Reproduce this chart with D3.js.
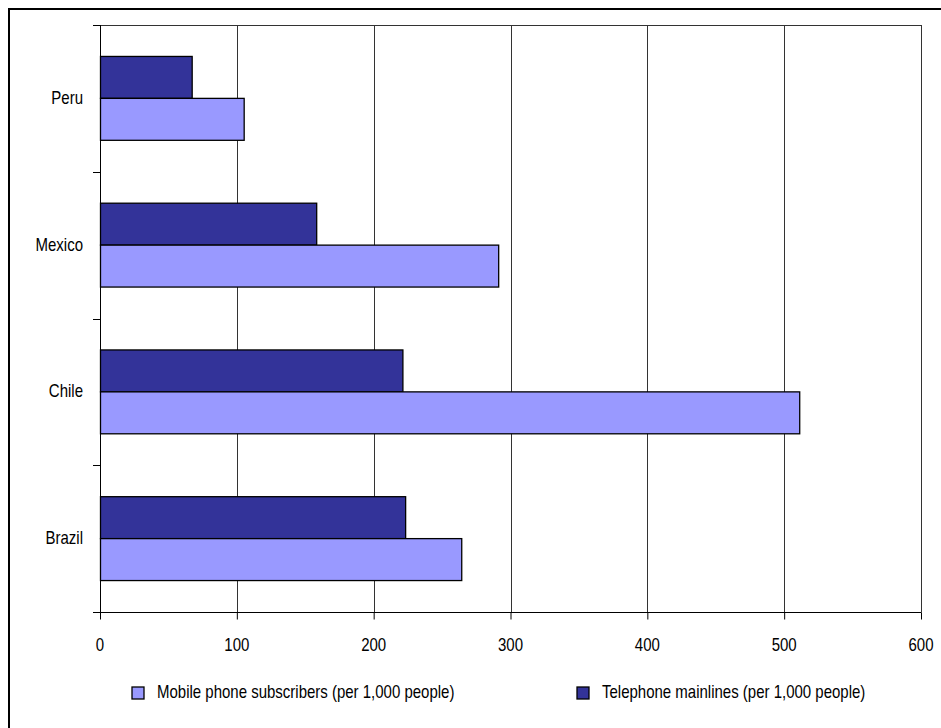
<!DOCTYPE html>
<html>
<head>
<meta charset="utf-8">
<script src="https://cdn.jsdelivr.net/npm/d3@7"></script>
<style>
  html, body { margin: 0; padding: 0; background: #fff; }
  svg { display: block; }
  text { font-family: "Liberation Sans", Arial, sans-serif; fill: #000; font-size: 15px; }
</style>
</head>
<body>
<svg id="chart" width="941" height="728"></svg>
<script>
// Countries, top to bottom
const countries = ["Peru", "Mexico", "Chile", "Brazil"];
// Telephone mainlines (per 1,000 people)
const mainlines = [67, 158, 221, 223];
// Mobile phone subscribers (per 1,000 people)
const mobile = [105, 291, 511, 264];
const xTicks = [0, 100, 200, 300, 400, 500, 600];

const seriesNames = ["Telephone mainlines (per 1,000 people)", "Mobile phone subscribers (per 1,000 people)"];
const seriesKeys = ["mainlines", "mobile"];
const colors = { mainlines: "#333399", mobile: "#9999FF" };

const rows = countries.map((c, i) => ({ country: c, mainlines: mainlines[i], mobile: mobile[i] }));

const svg = d3.select("#chart");
const plot = { left: 100, right: 921, top: 25, bottom: 612 };
const stretch = 1.22; // tall, narrow lettering

// Places a label at (px, py) with its vertical centre on py
function label(sel, px, py, anchor, txt) {
  return sel.append("text")
    .attr("transform", `translate(${px},${py}) scale(1,${stretch})`)
    .attr("dy", "0.35em")
    .attr("text-anchor", anchor)
    .text(txt);
}

// Chart frame
svg.append("rect")
  .attr("x", 9).attr("y", 9).attr("width", 950).attr("height", 740)
  .attr("fill", "none").attr("stroke", "#000").attr("stroke-width", 2);

const x = d3.scaleLinear().domain([0, 600]).range([plot.left, plot.right]);
const gap = 1.5 / 3.5;
const y = d3.scaleBand().domain(countries).range([plot.top, plot.bottom])
  .paddingInner(gap).paddingOuter(gap / 2);
const ySub = d3.scaleBand().domain(seriesKeys).range([0, y.bandwidth()]);
const step = y.step();

// Vertical gridlines
svg.append("g").selectAll("line").data(xTicks.slice(1)).join("line")
  .attr("x1", d => Math.round(x(d)) + 0.5).attr("x2", d => Math.round(x(d)) + 0.5)
  .attr("y1", plot.top).attr("y2", plot.bottom)
  .attr("stroke", "#333").attr("stroke-width", 1);

// Top edge of plot area
svg.append("line")
  .attr("x1", plot.left - 7).attr("x2", plot.right + 0.5)
  .attr("y1", plot.top + 0.5).attr("y2", plot.top + 0.5)
  .attr("stroke", "#333").attr("stroke-width", 1);

// Bars
const groups = svg.append("g").selectAll("g").data(rows).join("g")
  .attr("transform", d => `translate(0,${y(d.country)})`);
groups.selectAll("rect").data(d => seriesKeys.map(k => ({ key: k, value: d[k] }))).join("rect")
  .attr("x", x(0) + 0.5)
  .attr("y", d => ySub(d.key))
  .attr("width", d => x(d.value) - x(0))
  .attr("height", ySub.bandwidth())
  .attr("fill", d => colors[d.key])
  .attr("stroke", "#000").attr("stroke-width", 1.3);

// X axis: ticks from the scale, labels drawn with the same scale
const xAxis = svg.append("g").attr("transform", `translate(0,${plot.bottom + 0.5})`)
  .call(d3.axisBottom(x).tickValues(xTicks).tickSize(7).tickFormat("").tickSizeOuter(0));
xAxis.select(".domain").remove();
xAxis.append("line").attr("x1", plot.left - 7).attr("x2", plot.right + 0.5)
  .attr("stroke", "#000");
xAxis.selectAll(".tick line").attr("stroke", "#000");
const xLabels = svg.append("g");
xTicks.forEach(t => label(xLabels, x(t), 645, "middle", d3.format("d")(t)));

// Y axis line with ticks at category boundaries
svg.append("line")
  .attr("x1", plot.left + 0.5).attr("x2", plot.left + 0.5)
  .attr("y1", plot.top).attr("y2", plot.bottom + 7)
  .attr("stroke", "#000");
const boundaries = d3.range(countries.length + 1).map(i => plot.top + i * step);
svg.append("g").selectAll("line").data(boundaries).join("line")
  .attr("x1", plot.left - 7).attr("x2", plot.left)
  .attr("y1", d => Math.round(d) + 0.5).attr("y2", d => Math.round(d) + 0.5)
  .attr("stroke", "#000");

// Category labels
const yLabels = svg.append("g");
countries.forEach(c => label(yLabels, 83, y(c) + y.bandwidth() / 2 - 1, "end", c));

// Legend
const legendItems = [
  { key: "mobile", label: seriesNames[1], x: 132 },
  { key: "mainlines", label: seriesNames[0], x: 577 }
];
const legend = svg.append("g");
legendItems.forEach(d => {
  legend.append("rect")
    .attr("x", d.x).attr("y", 687)
    .attr("width", 12).attr("height", 12)
    .attr("fill", colors[d.key])
    .attr("stroke", "#000").attr("stroke-width", 1.3);
  label(legend, d.x + 25, 692, "start", d.label);
});
</script>
</body>
</html>
